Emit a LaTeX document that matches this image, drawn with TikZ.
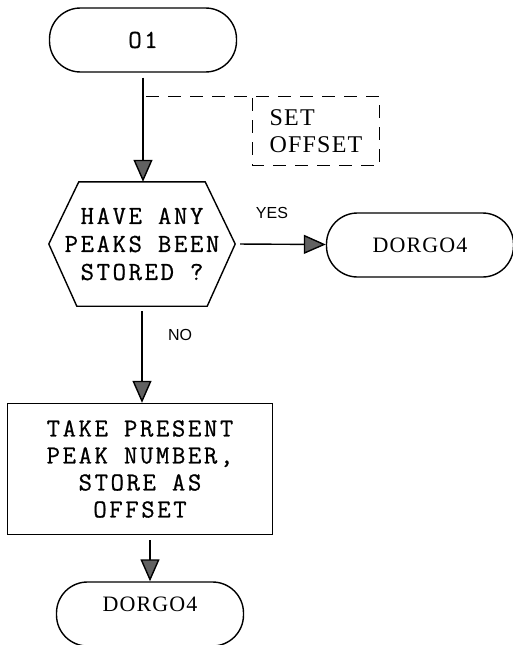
\documentclass[tikz,border=0pt]{standalone}
\usepackage{fontspec}
\newfontfamily\typefont[LetterSpace=10,FakeBold=0.7]{Latin Modern Mono}
\newfontfamily\wideserif[LetterSpace=5]{Liberation Serif}
\newfontfamily\handfont{Liberation Sans}
\usetikzlibrary{arrows.meta,calc}
\definecolor{spitze}{rgb}{0.38,0.38,0.38}
\tikzstyle{terminal} = [draw,line width=1.4pt,rectangle,rounded corners=31pt,minimum width=187pt,minimum height=64pt,inner sep=0pt]
\tikzstyle{process} = [draw,line width=1.4pt,rectangle,minimum width=265pt,minimum height=131pt,align=center,inner sep=0pt]
\tikzstyle{decision} = [minimum width=186pt,minimum height=124pt,align=center,inner sep=0pt]
\tikzstyle{edge} = [-{Triangle[width=19pt,length=22pt,fill=spitze]},line width=1.4pt,shorten <=5pt]
\tikzstyle{note} = [dash pattern=on 13pt off 9pt,line width=1.2pt]
\tikzstyle{mono} = [font=\typefont\fontsize{26}{28}\selectfont]
\tikzstyle{hand} = [font=\handfont\fontsize{16}{16}\selectfont]

\begin{document}
\begin{tikzpicture}[x=1pt,y=-1pt]
\useasboundingbox (0,0) rectangle (513,645);

\node[terminal,mono] (O1) at (143,40) {O1};

\node[decision,mono] (peaks) at (142,244) {HAVE ANY\\PEAKS BEEN\\STORED ?};
\draw[line width=1.4pt] ([xshift=30pt]peaks.north west) -- ([xshift=-30pt]peaks.north east) -- (peaks.east)
  -- ([xshift=-28pt]peaks.south east) -- ([xshift=28pt]peaks.south west) -- (peaks.west) -- cycle;

\node[terminal,font=\wideserif\fontsize{22}{22}\selectfont] (dorgoA) at (420,245) {DORGO4};

\node[process,font=\typefont\fontsize{26}{27}\selectfont] (store) at (140,469) {TAKE PRESENT\\PEAK NUMBER,\\STORE AS\\OFFSET};

\node[terminal,font=\wideserif\fontsize{22}{22}\selectfont,text depth=20pt] (dorgoB) at (150,614) {DORGO4};

% set offset annotation
\node[align=left,minimum width=127pt,minimum height=68pt,inner sep=0pt,font=\wideserif\fontsize{24}{27}\selectfont] (setoff) at (316,131) {SET\\OFFSET};
\coordinate (tap) at (O1 |- setoff.north);
\draw[note] ([xshift=3pt]tap) -- (setoff.north east) -- (setoff.south east) -- (setoff.south west) -- ([yshift=6pt]setoff.north west);

\draw[edge] (O1) -- (O1 |- peaks.north);
\draw[edge] (peaks.east) -- (dorgoA);
\draw[edge] (peaks.south) -- (peaks.south |- store.north);
\draw[edge] (store.south -| dorgoB) -- (dorgoB);

\node[hand] (yes) at (272,213) {YES};
\node[hand] (no) at (180,335) {NO};
\end{tikzpicture}
\end{document}
